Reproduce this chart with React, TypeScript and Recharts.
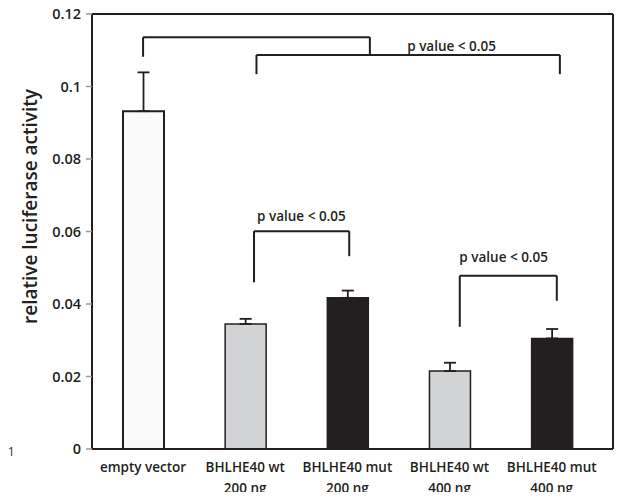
import {
  ComposedChart,
  Bar,
  Cell,
  ErrorBar,
  XAxis,
  YAxis,
  ReferenceLine,
  ReferenceDot,
} from 'recharts';

const categories = ['empty vector', 'BHLHE40 wt', 'BHLHE40 mut', 'BHLHE40 wt', 'BHLHE40 mut'];
const doses = ['', '200 ng', '200 ng', '400 ng', '400 ng'];
const means = [0.0932, 0.0345, 0.0417, 0.0215, 0.0305];
const sems = [0.0107, 0.0014, 0.002, 0.0023, 0.0026];
const fills = ['#fafafa', '#d1d3d4', '#231f20', '#d1d3d4', '#231f20'];
const yTicks = [0, 0.02, 0.04, 0.06, 0.08, 0.1, 0.12];

// significance brackets: x in category index units, y in data units
const brackets = [
  { from: 0, to: 2.22, left: 0.1082, right: 0.1087, top: 0.1136 },
  { from: 1.11, to: 4.08, left: 0.1034, right: 0.1034, top: 0.1087 },
  { from: 1.086, to: 2.018, left: 0.046, right: 0.0532, top: 0.0601 },
  { from: 3.1, to: 4.05, left: 0.0337, right: 0.0409, top: 0.0478 },
];
const pLabels = [
  { x: 3.02, y: 0.1112, text: 'p value < 0.05' },
  { x: 1.55, y: 0.0643, text: 'p value < 0.05' },
  { x: 3.53, y: 0.053, text: 'p value < 0.05' },
];

const data = means.map((m, i) => ({
  idx: i,
  name: categories[i],
  value: m,
  err: [0, sems[i]],
}));

const FONT = '"Open Sans", "DejaVu Sans", sans-serif';
const INK = '#231f20';

function XTick({ x, y, payload }: any) {
  const i = payload.value;
  return (
    <g>
      <text x={x} y={y + 15} textAnchor="middle" fontSize={13.5} fontWeight={600} fill={INK} fontFamily={FONT}>
        {categories[i]}
      </text>
      {doses[i] && (
        <text x={x} y={y + 36} textAnchor="middle" fontSize={13.5} fontWeight={600} fill={INK} fontFamily={FONT}>
          {doses[i]}
        </text>
      )}
    </g>
  );
}

export default function App() {
  return (
    <div style={{ margin: -8, position: 'relative', width: 623, height: 500, background: '#fff' }}>
      <ComposedChart
        width={623}
        height={500}
        data={data}
        margin={{ top: 14, right: 10, bottom: 0, left: 0 }}
        style={{ fontFamily: FONT }}
      >
        <XAxis
          dataKey="idx"
          type="number"
          height={51}
          domain={[-0.5, 4.6]}
          ticks={[0, 1, 2, 3, 4]}
          tickLine={false}
          axisLine={{ stroke: INK, strokeWidth: 2 }}
          tick={<XTick />}
          interval={0}
          allowDataOverflow
        />
        <YAxis
          width={92}
          domain={[0, 0.12]}
          ticks={yTicks}
          tickFormatter={(v: number) => String(v)}
          tickSize={6}
          tickMargin={5}
          tickLine={{ stroke: '#999', strokeWidth: 1.5 }}
          axisLine={{ stroke: INK, strokeWidth: 2 }}
          tick={{ fontSize: 14.5, fontWeight: 600, fill: INK, fontFamily: FONT }}
          label={({ viewBox }: any) => {
            const cx = viewBox.x + 30;
            const cy = viewBox.y + viewBox.height / 2 - 25;
            return (
              <text
                x={cx}
                y={cy}
                transform={`rotate(-90 ${cx} ${cy})`}
                textAnchor="middle"
                dominantBaseline="central"
                fontSize={19}
                fontWeight={600}
                fill={INK}
                fontFamily={FONT}
              >
                relative luciferase activity
              </text>
            );
          }}
        />
        <ReferenceLine y={0.12} stroke={INK} strokeWidth={2} ifOverflow="visible" />
        <ReferenceLine x={4.6} stroke={INK} strokeWidth={2} ifOverflow="visible" />
        <Bar dataKey="value" barSize={41} stroke={INK} strokeWidth={2} isAnimationActive={false}>
          {data.map((d, i) => (
            <Cell key={`c-${i}`} fill={fills[i]} strokeWidth={i === 0 ? 2 : 1.5} />
          ))}
          <ErrorBar dataKey="err" direction="y" width={6} stroke={INK} strokeWidth={1.8} isAnimationActive={false} />
        </Bar>
        {brackets.map((b, i) => [
          <ReferenceLine
            key={`bl-${i}`}
            segment={[{ x: b.from, y: b.left }, { x: b.from, y: b.top }]}
            stroke={INK}
            strokeWidth={2}
            ifOverflow="visible"
          />,
          <ReferenceLine
            key={`bt-${i}`}
            segment={[{ x: b.from, y: b.top }, { x: b.to, y: b.top }]}
            stroke={INK}
            strokeWidth={2}
            ifOverflow="visible"
          />,
          <ReferenceLine
            key={`br-${i}`}
            segment={[{ x: b.to, y: b.top }, { x: b.to, y: b.right }]}
            stroke={INK}
            strokeWidth={2}
            ifOverflow="visible"
          />,
        ])}
        {pLabels.map((p, i) => (
          <ReferenceDot
            key={`p-${i}`}
            x={p.x}
            y={p.y}
            r={0}
            fill="none"
            stroke="none"
            ifOverflow="visible"
            label={{
              value: p.text,
              position: 'center',
              fontSize: 13.5,
              fontWeight: 600,
              fill: INK,
              fontFamily: FONT,
            }}
          />
        ))}
      </ComposedChart>
      <span
        style={{
          position: 'absolute',
          left: 0,
          top: 443,
          zIndex: 2,
          fontFamily: FONT,
          fontSize: 13,
          lineHeight: '16px',
          color: '#333',
        }}
      >
        01
      </span>
    </div>
  );
}
